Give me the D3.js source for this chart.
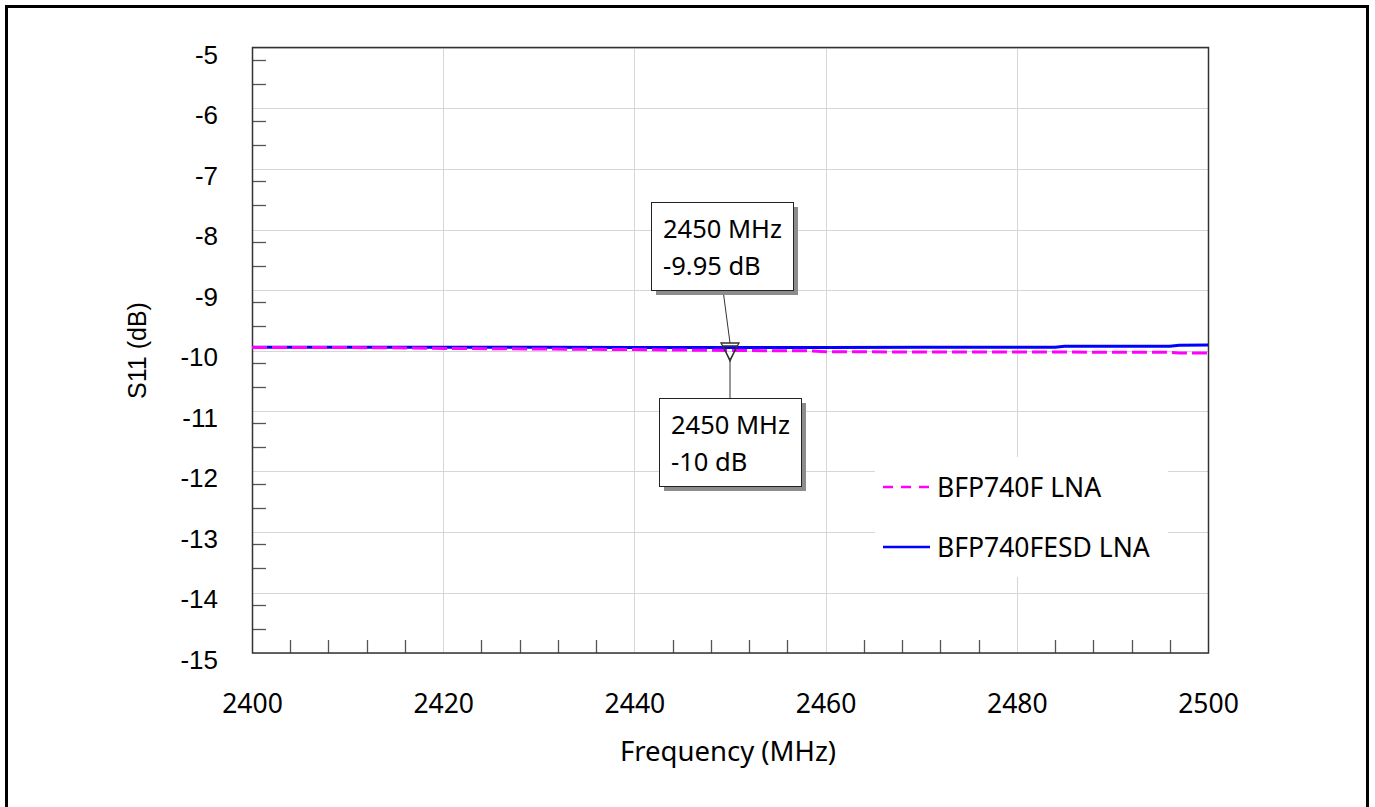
<!DOCTYPE html>
<html><head><meta charset="utf-8">
<script src="https://cdn.jsdelivr.net/npm/d3@7/dist/d3.min.js"></script>
<style>body{margin:0;background:#fff}svg{display:block}</style>
</head><body>
<svg id="c" width="1375" height="807"></svg>
<script>
// ---- data ----
const xTicks = [2400, 2420, 2440, 2460, 2480, 2500];
const yTicks = [-5, -6, -7, -8, -9, -10, -11, -12, -13, -14, -15];
const freqF = [2400, 2410, 2415, 2420, 2430, 2440, 2450, 2458, 2460, 2470, 2480, 2490, 2496, 2497, 2500];
const s11F  = [-9.95, -9.952, -9.955, -9.965, -9.975, -9.985, -10.0, -10.005, -10.02, -10.025, -10.025, -10.028, -10.03, -10.04, -10.04];
const freqESD = [2400, 2410, 2420, 2430, 2440, 2450, 2460, 2470, 2480, 2484, 2485, 2496, 2497, 2500];
const s11ESD  = [-9.945, -9.946, -9.947, -9.948, -9.949, -9.95, -9.95, -9.948, -9.946, -9.945, -9.93, -9.928, -9.912, -9.91];
const seriesNames = ["BFP740F LNA", "BFP740FESD LNA"];
const markerFreq = 2450;
const markerVals = [-9.95, -10];   // ESD (upper box), F (lower box)

const svg = d3.select("#c");
const L = 252, R = 1208, T = 48, B = 653;
const x = d3.scaleLinear().domain([2400, 2500]).range([L, R]);
const y = d3.scaleLinear().domain([-15, -5]).range([B, T]);

// outer frame
svg.append("rect").attr("x", 6.5).attr("y", 6.5).attr("width", 1361).attr("height", 830)
  .attr("fill", "none").attr("stroke", "#000").attr("stroke-width", 3);

// grid
const grid = svg.append("g").attr("stroke", "#d6d6d6").attr("stroke-width", 1);
xTicks.forEach(v => grid.append("line").attr("x1", Math.round(x(v)) + 0.5).attr("x2", Math.round(x(v)) + 0.5).attr("y1", T).attr("y2", B));
yTicks.forEach(v => grid.append("line").attr("y1", Math.round(y(v)) + 0.5).attr("y2", Math.round(y(v)) + 0.5).attr("x1", L).attr("x2", R));

// minor ticks x (every 4 MHz)
const minorX = d3.range(2404, 2500, 4).filter(v => v % 20 !== 0);
const tk = svg.append("g").attr("stroke", "#555").attr("stroke-width", 1.3);
minorX.forEach(v => tk.append("line").attr("x1", Math.round(x(v)) + 0.5).attr("x2", Math.round(x(v)) + 0.5).attr("y1", B).attr("y2", B - 13));
// minor ticks y
const minorY = [];
for (let k = -5; k > -15; k--) { minorY.push(k - 0.2, k - 0.6); }
minorY.forEach(v => tk.append("line").attr("y1", Math.round(y(v)) + 0.5).attr("y2", Math.round(y(v)) + 0.5).attr("x1", L).attr("x2", L + 14));

// plot frame
svg.append("rect").attr("x", L + 0.5).attr("y", T - 0.5).attr("width", R - L).attr("height", B - T + 0.5)
  .attr("fill", "none").attr("stroke", "#333").attr("stroke-width", 1.5);

// axes labels via d3 axes (styled)
const xAxis = d3.axisBottom(x).tickValues(xTicks).tickSize(0).tickPadding(0).tickFormat(d => String(d));
const gx = svg.append("g").attr("transform", `translate(0,${B})`).call(xAxis);
gx.select(".domain").remove();
gx.selectAll("text").attr("y", 60).attr("dy", 0).attr("fill", "#000")
  .style("font-family", "'Noto Sans', sans-serif").style("font-size", "26.5px");

const yAxis = d3.axisLeft(y).tickValues(yTicks).tickSize(0).tickPadding(34).tickFormat(d => String(d));
const gy = svg.append("g").attr("transform", `translate(${L},0)`).call(yAxis);
gy.select(".domain").remove();
gy.selectAll("text").attr("dy", "0.32em").attr("transform", "translate(0,7)").attr("fill", "#000")
  .style("font-family", "'Liberation Sans', Arial, sans-serif").style("font-size", "26px");

// axis titles
svg.append("text").attr("x", (L + R) / 2 - 2).attr("y", 761).attr("text-anchor", "middle")
  .style("font-family", "'Noto Sans', sans-serif").style("font-size", "27.5px").text("Frequency (MHz)");
svg.append("text").attr("transform", `translate(146,${(T + B) / 2}) rotate(-90)`).attr("text-anchor", "middle")
  .style("font-family", "'Liberation Sans', Arial, sans-serif").style("font-size", "25px").text("S11 (dB)");

// lines
const line = d3.line().x(d => x(d[0])).y(d => y(d[1]));
svg.append("clipPath").attr("id", "pc").append("rect").attr("x", L).attr("y", T).attr("width", R - L).attr("height", B - T);
svg.append("path").datum(freqESD.map((f, i) => [f, s11ESD[i]])).attr("d", line)
  .attr("fill", "none").attr("stroke", "#0000ff").attr("stroke-width", 3).attr("clip-path", "url(#pc)");
svg.append("path").datum(freqF.map((f, i) => [f, s11F[i]])).attr("d", line)
  .attr("fill", "none").attr("stroke", "#ff00ff").attr("stroke-width", 3).attr("stroke-dasharray", "15,5").attr("clip-path", "url(#pc)");

// legend
const lg = svg.append("g");
lg.append("rect").attr("x", 875).attr("y", 457).attr("width", 293).attr("height", 120).attr("fill", "#fff");
const legY = [487, 547];
lg.append("line").attr("x1", 883).attr("x2", 930).attr("y1", legY[0]).attr("y2", legY[0])
  .attr("stroke", "#ff00ff").attr("stroke-width", 2.5).attr("stroke-dasharray", "10,8");
lg.append("line").attr("x1", 883).attr("x2", 930).attr("y1", legY[1]).attr("y2", legY[1])
  .attr("stroke", "#0000ff").attr("stroke-width", 2.5);
seriesNames.forEach((n, i) => lg.append("text").attr("x", 937).attr("y", legY[i] + 10)
  .style("font-family", "'Noto Sans', sans-serif").style("font-size", "26.5px").text(n));

// markers
const mx = x(markerFreq);
const mg = svg.append("g");
function tri(topY, w, h) {
  mg.append("path").attr("d", `M${mx - w / 2},${topY} L${mx + w / 2},${topY} L${mx},${topY + h} Z`)
    .attr("fill", "none").attr("stroke", "#333").attr("stroke-width", 1.3);
}
const yU = y(markerVals[0]), yLw = y(markerVals[1]);
tri(yU - 4.5, 18, 17);
tri(yLw - 4.5, 14, 15);
// leader lines
mg.append("line").attr("x1", mx - 7).attr("y1", 290).attr("x2", mx).attr("y2", yU - 4.5).attr("stroke", "#333").attr("stroke-width", 1);
mg.append("line").attr("x1", mx).attr("y1", yLw + 9).attr("x2", mx).attr("y2", 398).attr("stroke", "#333").attr("stroke-width", 1);

function box(x0, y0, w, h, lines) {
  mg.append("rect").attr("x", x0 + 5).attr("y", y0 + 5).attr("width", w).attr("height", h).attr("fill", "#8c8c8c");
  mg.append("rect").attr("x", x0 + 0.5).attr("y", y0 + 0.5).attr("width", w).attr("height", h)
    .attr("fill", "#fff").attr("stroke", "#222").attr("stroke-width", 1);
  lines.forEach((t, i) => mg.append("text").attr("x", x0 + 12).attr("y", y0 + 36 + i * 37)
    .style("font-family", "'Noto Sans', sans-serif").style("font-size", "25.5px").attr("fill", "#000").text(t));
}
box(651, 202, 142, 88, [markerFreq + " MHz", markerVals[0] + " dB"]);
box(659, 398, 142, 88, [markerFreq + " MHz", markerVals[1] + " dB"]);
</script>
</body></html>
